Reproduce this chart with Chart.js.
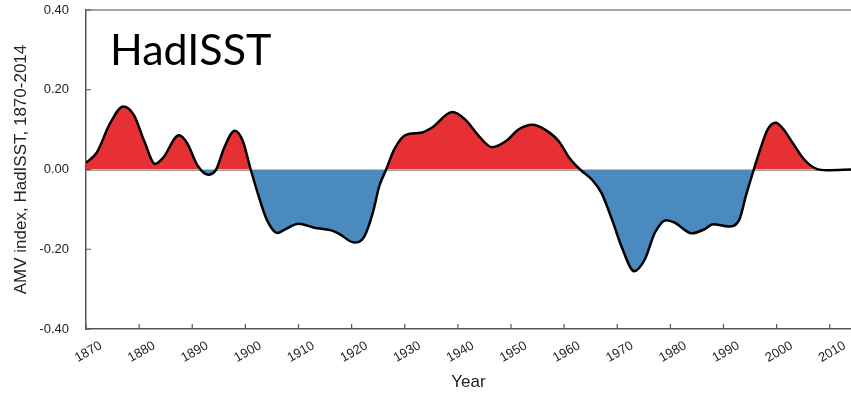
<!DOCTYPE html>
<html>
<head>
<meta charset="utf-8">
<script src="https://cdn.jsdelivr.net/npm/chart.js@4.4.0/dist/chart.umd.min.js"></script>
<style>
  html, body { margin: 0; padding: 0; background: #fff; }
  #wrap { width: 851px; height: 396px; }
</style>
</head>
<body>
<div id="wrap"><canvas id="amv" width="851" height="396"></canvas></div>
<script>
// AMV index (year, value)
const years = [
    1870, 1872, 1874.5, 1877, 1879, 1881, 1883, 1884.5, 1887.5, 1889,
    1891, 1893, 1894.5, 1896, 1898, 1899.5, 1901, 1902.5, 1904, 1906,
    1907.5, 1910, 1913, 1916, 1917.5, 1920.5, 1922.3, 1924, 1925.2, 1926.5,
    1928, 1930.2, 1933, 1935, 1939, 1941.4, 1944, 1946.4, 1949, 1951.4,
    1954, 1956.4, 1959, 1961, 1963, 1965.2, 1967, 1969, 1971, 1973.2,
    1975.2, 1977.1, 1979.2, 1980.8, 1984, 1986.4, 1988, 1991, 1993, 1994.2,
    1995.7, 1997.1, 1998.3, 1999.8, 2001.1, 2003, 2005.2, 2007.4, 2009.6, 2014
];
const amv = [
    0.017, 0.042, 0.115, 0.158, 0.137, 0.070, 0.014, 0.029, 0.086, 0.067,
    0.010, -0.013, 0.000, 0.054, 0.097, 0.072, 0.000, -0.067, -0.125, -0.159,
    -0.150, -0.136, -0.146, -0.152, -0.160, -0.183, -0.170, -0.108, -0.042, 0.000,
    0.050, 0.087, 0.092, 0.104, 0.144, 0.125, 0.083, 0.056, 0.071, 0.100,
    0.112, 0.100, 0.071, 0.029, 0.000, -0.025, -0.058, -0.125, -0.200, -0.255,
    -0.225, -0.158, -0.127, -0.133, -0.160, -0.150, -0.137, -0.143, -0.125, -0.067,
    0.000, 0.058, 0.100, 0.117, 0.104, 0.067, 0.025, 0.002, -0.002, 0.000
];
const yTicks = [-0.4, -0.2, 0, 0.2, 0.4];
const xTicks = [1870, 1880, 1890, 1900, 1910, 1920, 1930, 1940, 1950, 1960, 1970, 1980, 1990, 2000, 2010];

const AXIS = '#555555';
const FONT = '"Liberation Sans", Arial, sans-serif';

// zero line, top frame line, inward tick marks and the panel label
const extras = {
    id: 'extras',
    beforeDatasetsDraw(chart) {
        const { ctx, chartArea: a, scales: { y } } = chart;
        const y0 = Math.round(y.getPixelForValue(0)) + 0.5;
        ctx.save();
        ctx.strokeStyle = '#9a9a9a';
        ctx.lineWidth = 1;
        ctx.beginPath();
        ctx.moveTo(a.left, y0);
        ctx.lineTo(a.right, y0);
        ctx.stroke();
        ctx.restore();
    },
    afterDraw(chart) {
        const { ctx, chartArea: a, scales: { x, y } } = chart;
        ctx.save();
        ctx.strokeStyle = '#8a8a8a';
        ctx.lineWidth = 1.5;
        ctx.beginPath();
        ctx.moveTo(a.left, a.top);
        ctx.lineTo(a.right, a.top);
        ctx.stroke();

        ctx.strokeStyle = AXIS;
        ctx.lineWidth = 1.2;
        ctx.beginPath();
        x.ticks.forEach(t => {
            const px = x.getPixelForValue(t.value);
            ctx.moveTo(px, a.bottom);
            ctx.lineTo(px, a.bottom - 5);
        });
        y.ticks.forEach(t => {
            const py = y.getPixelForValue(t.value);
            ctx.moveTo(a.left, py);
            ctx.lineTo(a.left + 5, py);
        });
        ctx.stroke();

        ctx.fillStyle = '#000';
        ctx.font = '43px Lato, "Open Sans", sans-serif';
        ctx.textBaseline = 'alphabetic';
        ctx.fillText('HadISST', a.left + 24, a.top + 55);
        ctx.restore();
    }
};

new Chart(document.getElementById('amv'), {
    type: 'line',
    data: {
        datasets: [{
            data: years.map((yr, i) => ({ x: yr, y: amv[i] })),
            borderColor: '#000',
            borderWidth: 2.5,
            pointRadius: 0,
            cubicInterpolationMode: 'monotone',
            fill: { target: 'origin', above: '#e63034', below: '#4a8abf' }
        }]
    },
    options: {
        responsive: false,
        animation: false,
        layout: { padding: { top: 10, right: 0, left: 0, bottom: 0 } },
        plugins: { legend: { display: false }, tooltip: { enabled: false } },
        scales: {
            x: {
                type: 'linear',
                min: 1870,
                max: 2014,
                afterFit: s => { s.height = 67; s.paddingRight = 0; s.paddingLeft = 0; s.paddingTop = 0; },
                afterBuildTicks: s => { s.ticks = xTicks.map(v => ({ value: v })); },
                grid: { drawOnChartArea: false, drawTicks: false },
                border: { color: AXIS, width: 1.5 },
                ticks: {
                    minRotation: 30,
                    maxRotation: 30,
                    padding: 9,
                    labelOffset: 15,
                    color: '#222',
                    font: { family: FONT, size: 13 },
                    callback: v => String(v)
                },
                title: {
                    display: true,
                    text: 'Year',
                    color: '#222',
                    font: { family: FONT, size: 17 },
                    padding: { top: 0, bottom: 3 }
                }
            },
            y: {
                min: -0.4,
                max: 0.4,
                afterFit: s => { s.width = 86; s.paddingTop = 0; s.paddingBottom = 0; },
                afterBuildTicks: s => { s.ticks = yTicks.map(v => ({ value: v })); },
                grid: { drawOnChartArea: false, drawTicks: false },
                border: { color: AXIS, width: 1.5 },
                ticks: {
                    padding: 17,
                    color: '#222',
                    font: { family: FONT, size: 13 },
                    callback: v => v.toFixed(2)
                },
                title: {
                    display: true,
                    text: 'AMV index, HadISST, 1870-2014',
                    color: '#222',
                    font: { family: FONT, size: 17 },
                    padding: { top: 11, bottom: 0 }
                }
            }
        }
    },
    plugins: [extras]
});
</script>
</body>
</html>
